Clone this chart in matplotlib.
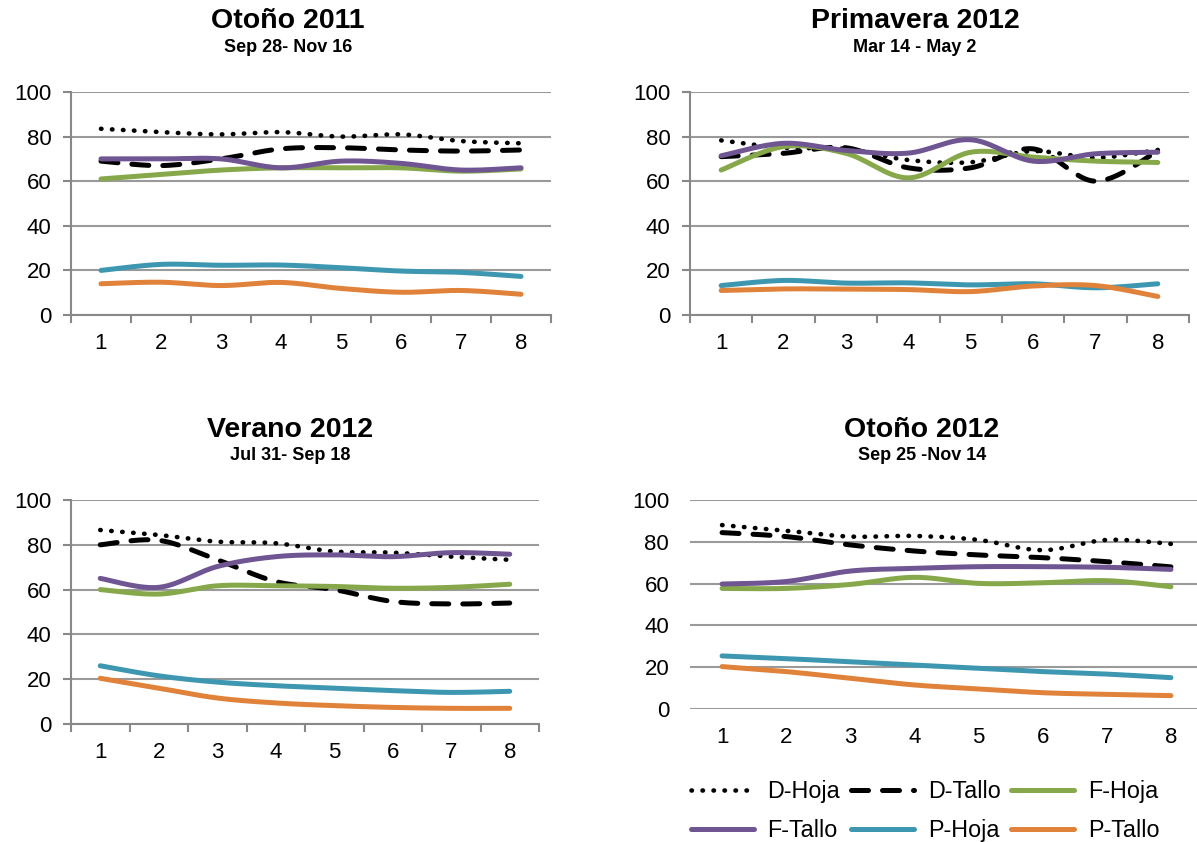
import matplotlib
matplotlib.use("Agg")
import matplotlib.pyplot as plt
from matplotlib.lines import Line2D
import numpy as np

plt.rcParams["font.family"] = ["Liberation Sans", "DejaVu Sans"]

weeks = [1, 2, 3, 4, 5, 6, 7, 8]
series_names = ["D-Hoja", "D-Tallo", "F-Hoja", "F-Tallo", "P-Hoja", "P-Tallo"]

# Otoño 2011
oto11_d_hoja = [83.5, 82, 81, 82, 80, 81, 78, 77]
oto11_d_tallo = [69, 67, 70, 74.5, 75, 74, 73.5, 74]
oto11_f_hoja = [61, 63, 65, 66, 66, 66, 64.5, 65.5]
oto11_f_tallo = [70, 70, 70, 66, 69, 68, 65, 66]
oto11_p_hoja = [20, 22.7, 22.3, 22.4, 21.2, 19.7, 19.1, 17.3]
oto11_p_tallo = [14, 14.7, 13.2, 14.6, 11.9, 10.2, 11, 9.3]

# Primavera 2012
pri12_d_hoja = [78.3, 75, 74.5, 69.5, 68.5, 73.5, 70.5, 74]
pri12_d_tallo = [71, 72.5, 75, 66, 66, 74.5, 60, 73.5]
pri12_f_hoja = [65, 75.5, 72.5, 61.5, 73, 70.8, 69, 68.4]
pri12_f_tallo = [71.4, 77, 73.8, 72.6, 78.6, 69, 72.3, 73]
pri12_p_hoja = [13.2, 15.5, 14.3, 14.4, 13.5, 14, 12.2, 14]
pri12_p_tallo = [11, 11.7, 11.6, 11.4, 10.5, 13, 13.2, 8.3]

# Verano 2012
ver12_d_hoja = [86.6, 84.4, 81.4, 80.7, 77, 76.5, 74.7, 73.3]
ver12_d_tallo = [80, 82, 73.3, 63.6, 60, 54.7, 53.6, 54]
ver12_f_hoja = [60, 58, 61.7, 61.7, 61.4, 60.6, 61, 62.4]
ver12_f_tallo = [65, 61, 70.3, 74.7, 75.5, 74.7, 76.5, 75.8]
ver12_p_hoja = [26, 21.5, 18.7, 17.1, 16, 14.9, 14.1, 14.6]
ver12_p_tallo = [20.4, 16, 11.6, 9.4, 8.2, 7.4, 7, 7]

# Otoño 2012
oto12_d_hoja = [88, 85.3, 82.5, 82.8, 80.9, 76, 80.9, 79]
oto12_d_tallo = [84.4, 82.5, 78.5, 75.6, 73.7, 72.4, 70.5, 68]
oto12_f_hoja = [57.7, 57.7, 59.6, 63, 60.1, 60.4, 61.4, 58.5]
oto12_f_tallo = [59.8, 61, 66, 67.3, 68.1, 68.1, 67.8, 66.8]
oto12_p_hoja = [25.4, 24.1, 22.6, 21, 19.5, 17.9, 16.7, 15]
oto12_p_tallo = [20.3, 17.9, 14.7, 11.5, 9.6, 7.8, 7, 6.4]

panels = [
    ("Otoño 2011", "Sep 28- Nov 16",
     [oto11_d_hoja, oto11_d_tallo, oto11_f_hoja, oto11_f_tallo, oto11_p_hoja, oto11_p_tallo]),
    ("Primavera 2012", "Mar 14 - May 2",
     [pri12_d_hoja, pri12_d_tallo, pri12_f_hoja, pri12_f_tallo, pri12_p_hoja, pri12_p_tallo]),
    ("Verano 2012", "Jul 31- Sep 18",
     [ver12_d_hoja, ver12_d_tallo, ver12_f_hoja, ver12_f_tallo, ver12_p_hoja, ver12_p_tallo]),
    ("Otoño 2012", "Sep 25 -Nov 14",
     [oto12_d_hoja, oto12_d_tallo, oto12_f_hoja, oto12_f_tallo, oto12_p_hoja, oto12_p_tallo]),
]

styles = [
    dict(color="black", linestyle=(0, (0.1, 2.3)), dash_capstyle="round", linewidth=3.3),
    dict(color="black", linestyle=(0, (3.4, 2.8)), dash_capstyle="round", linewidth=3.6),
    dict(color="#86A84A", linestyle="-", solid_capstyle="round", linewidth=3.6),
    dict(color="#6F5592", linestyle="-", solid_capstyle="round", linewidth=3.6),
    dict(color="#3E97B0", linestyle="-", solid_capstyle="round", linewidth=3.6),
    dict(color="#E0823A", linestyle="-", solid_capstyle="round", linewidth=3.6),
]

W, H = 1197, 842
# axes boxes in pixels: left, top, right, bottom
boxes = [
    (71, 92, 551, 315),
    (690, 92, 1189, 315),
    (71, 500, 539, 724),
    (690, 500, 1203, 709),
]
titles_xy = [(288, 21), (915, 21), (290, 430), (922, 430)]


def smooth(x, y, n=30):
    # Bezier smoothing through the points (Excel-style smoothed line)
    x = np.asarray(x, float)
    y = np.asarray(y, float)
    px, py = [], []
    m = len(x)
    t = np.linspace(0, 1, n)
    for i in range(m - 1):
        i0, i3 = max(i - 1, 0), min(i + 2, m - 1)
        p0 = np.array([x[i], y[i]])
        p3 = np.array([x[i + 1], y[i + 1]])
        c1 = p0 + (np.array([x[i + 1], y[i + 1]]) - np.array([x[i0], y[i0]])) / 6
        c2 = p3 - (np.array([x[i3], y[i3]]) - np.array([x[i], y[i]])) / 6
        b = ((1 - t) ** 3)[:, None] * p0 + (3 * (1 - t) ** 2 * t)[:, None] * c1 \
            + (3 * (1 - t) * t ** 2)[:, None] * c2 + (t ** 3)[:, None] * p3
        px.extend(b[:, 0])
        py.extend(b[:, 1])
    return px, py


fig = plt.figure(figsize=(W / 100, H / 100), dpi=100)

for k, ((title, sub, data), (l, t, r, b)) in enumerate(zip(panels, boxes)):
    ax = fig.add_axes([l / W, 1 - b / H, (r - l) / W, (b - t) / H])
    for vals, st in zip(data, styles):
        sx, sy = smooth(weeks, vals)
        ax.plot(sx, sy, **st, zorder=3)
    ax.set_xlim(0.5, 8.5)
    ax.set_ylim(0, 100)
    ax.set_yticks([0, 20, 40, 60, 80, 100])
    ax.set_xticks(weeks)
    ax.set_xticks(np.arange(0.5, 9, 1), minor=True)
    ax.yaxis.grid(True, color="#9a9a9a", linewidth=1.5)
    ax.set_axisbelow(True)
    for s in ["top", "right"]:
        ax.spines[s].set_visible(False)
    ax.tick_params(axis="both", labelsize=16, colors="black")
    ax.tick_params(axis="x", which="major", length=0, pad=13)
    if k < 3:
        for s in ["left", "bottom"]:
            ax.spines[s].set_color("#888888")
            ax.spines[s].set_linewidth(1.5)
        ax.tick_params(axis="x", which="minor", length=6, width=1.5, color="#888888")
        ax.tick_params(axis="y", length=6, width=1.5, color="#888888", pad=8)
    else:
        for s in ["left", "bottom"]:
            ax.spines[s].set_visible(False)
        ax.tick_params(axis="x", which="minor", length=0)
        ax.tick_params(axis="y", length=0, pad=15)
    tx, ty = titles_xy[k]
    fig.text(tx / W, 1 - ty / H, title, ha="center", va="center",
             fontsize=20.5, fontweight="bold")
    fig.text(tx / W, 1 - (ty + 26) / H, sub, ha="center", va="center",
             fontsize=13, fontweight="bold")

handles = [Line2D([], [], **st) for st in styles]
order = [0, 3, 1, 4, 2, 5]
fig.legend([handles[i] for i in order], [series_names[i] for i in order],
           ncol=3, loc="center", bbox_to_anchor=(925 / W, 1 - 811 / H),
           frameon=False, fontsize=16.8, handlelength=2.7, handletextpad=0.6,
           columnspacing=0.45, labelspacing=0.68, borderpad=0)

fig.savefig("out.png", dpi=100)
